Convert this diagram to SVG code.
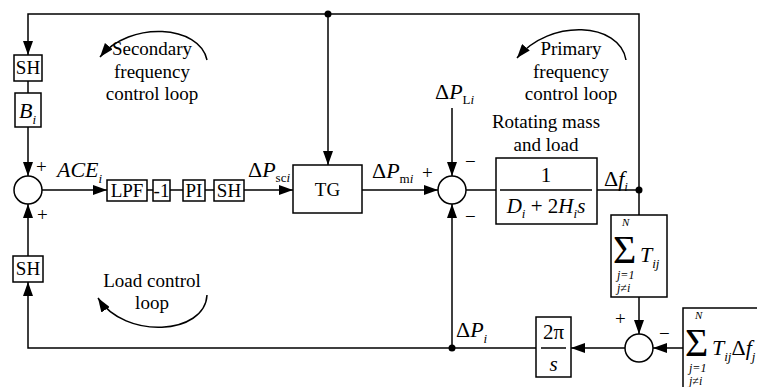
<svg xmlns="http://www.w3.org/2000/svg" width="757" height="387" viewBox="0 0 757 387">
<style>
.ln{fill:none;stroke:#000;stroke-width:1.5}
.bx{fill:#fff;stroke:#000;stroke-width:1.5}
.t{font-family:"Liberation Serif","Times New Roman",serif;fill:#000}
.c{text-anchor:middle}
.it{font-style:italic}
</style>
<defs>
<marker id="arr" viewBox="0 0 14 10" refX="14" refY="5" markerWidth="14" markerHeight="10" orient="auto" markerUnits="userSpaceOnUse"><path d="M0,0 L14,5 L0,10 z" fill="#000"/></marker>
</defs>
<rect width="757" height="387" fill="#fff"/>
<g id="connectors">
<path class="ln" d="M639,190 V14 H28 V55" marker-end="url(#arr)"/>
<path class="ln" d="M328,14 V165" marker-end="url(#arr)"/>
<path class="ln" d="M28,81 V93"/>
<path class="ln" d="M28,127 V176" marker-end="url(#arr)"/>
<path class="ln" d="M42,190 H107" marker-end="url(#arr)"/>
<path class="ln" d="M147,190 H153 M170,190 H183 M205,190 H214"/>
<path class="ln" d="M244,190 H293" marker-end="url(#arr)"/>
<path class="ln" d="M362,190 H438" marker-end="url(#arr)"/>
<path class="ln" d="M452,108 V176" marker-end="url(#arr)"/>
<path class="ln" d="M466,190 H496"/>
<path class="ln" d="M597,190 H639 V215"/>
<path class="ln" d="M639,297 V334" marker-end="url(#arr)"/>
<path class="ln" d="M683,348 H653" marker-end="url(#arr)"/>
<path class="ln" d="M625,348 H571" marker-end="url(#arr)"/>
<path class="ln" d="M536,348 H28 V282" marker-end="url(#arr)"/>
<path class="ln" d="M28,256 V204" marker-end="url(#arr)"/>
<path class="ln" d="M452,348 V204" marker-end="url(#arr)"/>
<circle cx="328" cy="14" r="3.5"/>
<circle cx="639" cy="190" r="3.5"/>
<circle cx="452" cy="348" r="3.5"/>
<path class="ln" d="M207,60 C200,25 130,20 100,57" marker-end="url(#arr)"/>
<path class="ln" d="M626,60 C620,22 550,18 517,58" marker-end="url(#arr)"/>
<path class="ln" d="M207,295 C205,335 125,340 98,298" marker-end="url(#arr)"/>
</g>
<g id="sh1"><rect class="bx" x="14" y="55" width="28" height="26"/><text class="t c" x="28" y="74" font-size="19">SH</text></g>
<g id="bi"><rect class="bx" x="15" y="93" width="26" height="34"/><text class="t it" x="19" y="118" font-size="22">B<tspan font-size="13" dy="6">i</tspan></text></g>
<g id="sum1"><circle class="bx" cx="28" cy="190" r="14"/><text class="t" x="36" y="173" font-size="19">+</text><text class="t" x="37" y="221" font-size="19">+</text></g>
<g id="sh3"><rect class="bx" x="13" y="256" width="30" height="26"/><text class="t c" x="28" y="275" font-size="19">SH</text></g>
<g id="lpf"><rect class="bx" x="107" y="180" width="40" height="21"/><text class="t c" x="127" y="197" font-size="19">LPF</text></g>
<g id="neg1"><rect class="bx" x="153" y="180" width="17" height="21"/><text class="t c" x="161.5" y="197" font-size="19">-1</text></g>
<g id="pi"><rect class="bx" x="183" y="180" width="22" height="21"/><text class="t c" x="194" y="197" font-size="19">PI</text></g>
<g id="sh2"><rect class="bx" x="214" y="180" width="30" height="21"/><text class="t c" x="229" y="197" font-size="19">SH</text></g>
<g id="tg"><rect class="bx" x="293" y="165" width="69" height="48"/><text class="t c" x="327.5" y="196" font-size="19">TG</text></g>
<g id="sum2"><circle class="bx" cx="452" cy="190" r="14"/><text class="t" x="422" y="179" font-size="19">+</text><text class="t" x="465" y="168" font-size="19">−</text><text class="t" x="465" y="223" font-size="19">−</text></g>
<g id="plant"><rect class="bx" x="496" y="158" width="101" height="66"/><text class="t c" x="546" y="182" font-size="21">1</text><line class="ln" x1="500" y1="190" x2="592" y2="190"/><text class="t c" x="546" y="213" font-size="21"><tspan class="it">D</tspan><tspan font-size="13" class="it" dy="5">i</tspan><tspan dy="-5"> + 2</tspan><tspan class="it">H</tspan><tspan font-size="13" class="it" dy="5">i</tspan><tspan class="it" dy="-5">s</tspan></text></g>
<g id="sigma1"><rect class="bx" x="611" y="215" width="56" height="82"/><text class="t it" x="622" y="226" font-size="11">N</text><text class="t" x="613" y="263" font-size="40">Σ</text><text class="t it" x="640" y="262" font-size="22">T<tspan font-size="13" dy="6">ij</tspan></text><text class="t it" x="617" y="279" font-size="12">j=1</text><text class="t it" x="617" y="292" font-size="12">j≠i</text></g>
<g id="sum3"><circle class="bx" cx="639" cy="348" r="14"/><text class="t" x="615" y="325" font-size="19">+</text><text class="t" x="659" y="340" font-size="19">−</text></g>
<g id="sigma2"><rect class="bx" x="683" y="308" width="90" height="90"/><text class="t it" x="695" y="319" font-size="11">N</text><text class="t" x="685" y="356" font-size="40">Σ</text><text class="t it" x="712" y="355" font-size="22">T<tspan font-size="13" dy="6">ij</tspan><tspan font-style="normal" dy="-6">Δ</tspan>f<tspan font-size="13" dy="6">j</tspan></text><text class="t it" x="689" y="372" font-size="12">j=1</text><text class="t it" x="689" y="385" font-size="12">j≠i</text></g>
<g id="integ"><rect class="bx" x="536" y="317" width="35" height="60"/><text class="t c" x="553.5" y="339" font-size="21">2π</text><line class="ln" x1="541" y1="348" x2="566" y2="348"/><text class="t c it" x="553.5" y="371" font-size="21">s</text></g>
<g id="labels">
<text class="t c" x="152" y="55" font-size="19">Secondary</text>
<text class="t c" x="152" y="78" font-size="19">frequency</text>
<text class="t c" x="152" y="100" font-size="19">control loop</text>
<text class="t c" x="571" y="55" font-size="19">Primary</text>
<text class="t c" x="571" y="78" font-size="19">frequency</text>
<text class="t c" x="571" y="100" font-size="19">control loop</text>
<text class="t c" x="546" y="128" font-size="19">Rotating mass</text>
<text class="t c" x="546" y="151" font-size="19">and load</text>
<text class="t c" x="152" y="287" font-size="19">Load control</text>
<text class="t c" x="152" y="309" font-size="19">loop</text>
<text class="t it" x="57" y="177" font-size="22">ACE<tspan font-size="13" dy="6">i</tspan></text>
<text class="t" x="248" y="177" font-size="22">Δ<tspan class="it">P</tspan><tspan font-size="13" dy="5">sc</tspan><tspan font-size="13" class="it">i</tspan></text>
<text class="t" x="372" y="178" font-size="22">Δ<tspan class="it">P</tspan><tspan font-size="13" dy="5">m</tspan><tspan font-size="13" class="it">i</tspan></text>
<text class="t" x="435" y="99" font-size="22">Δ<tspan class="it">P</tspan><tspan font-size="13" dy="5">L</tspan><tspan font-size="13" class="it">i</tspan></text>
<text class="t" x="456" y="337" font-size="22">Δ<tspan class="it">P</tspan><tspan font-size="13" class="it" dy="6">i</tspan></text>
<text class="t" x="604" y="186" font-size="22">Δ<tspan class="it">f</tspan><tspan font-size="13" class="it" dy="5">i</tspan></text>
</g>
</svg>
